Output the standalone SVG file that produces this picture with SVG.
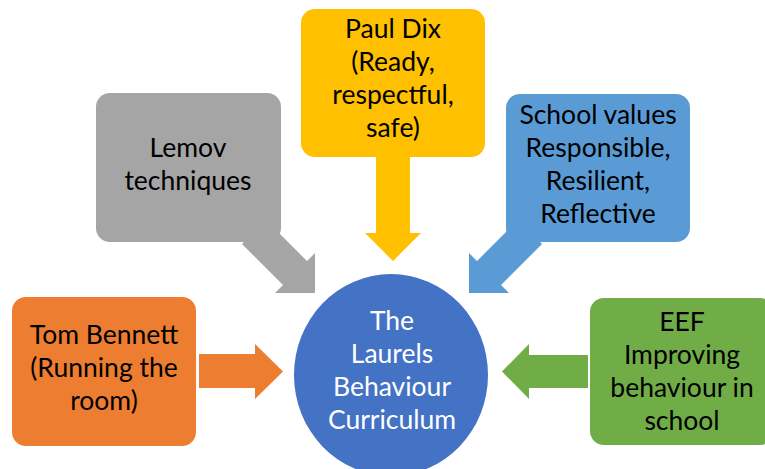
<svg xmlns="http://www.w3.org/2000/svg" width="765" height="469" viewBox="0 0 765 469">
<style>
text { font-family: Lato, Carlito, "Open Sans", sans-serif; font-size: 26.5px; text-anchor: middle; fill: #000; }
.w { fill: #fff; }
.orange { fill: #ED7D31; }
.gray { fill: #A5A5A5; }
.yellow { fill: #FFC000; }
.blue { fill: #5B9BD5; }
.green { fill: #70AD47; }
.center { fill: #4472C4; }
</style>
<rect width="765" height="469" fill="#fff"/>
<g id="connectors">
  <polygon class="orange" points="199,354 255,354 255,344 283,371.5 255,399 255,388 199,388"/>
  <polygon class="gray" points="242,244 266,220 307,261 315,253 315,293 275,293 283,285"/>
  <polygon class="yellow" points="376,157 410,157 410,233 421,233 393,261 365,233 376,233"/>
  <polygon class="blue" points="542,244 518,220 477,261 469,253 469,293 509,293 501,285"/>
  <polygon class="green" points="588,355 529,355 529,344 502,371.5 529,399 529,388 588,388"/>
</g>
<g id="tom-bennett">
  <rect class="orange" x="12" y="297" width="184" height="149" rx="14"/>
  <text x="104" y="344">Tom Bennett</text>
  <text x="104" y="377">(Running the</text>
  <text x="104" y="410">room)</text>
</g>
<g id="lemov">
  <rect class="gray" x="96" y="93" width="185" height="149" rx="14"/>
  <text x="188" y="157">Lemov</text>
  <text x="188" y="190">techniques</text>
</g>
<g id="paul-dix">
  <rect class="yellow" x="301" y="9" width="184" height="148" rx="14"/>
  <text x="393" y="38">Paul Dix</text>
  <text x="393" y="71">(Ready,</text>
  <text x="393" y="104">respectful,</text>
  <text x="393" y="137">safe)</text>
</g>
<g id="school-values">
  <rect class="blue" x="506" y="94" width="184" height="148" rx="14"/>
  <text x="598" y="124">School values</text>
  <text x="598" y="157">Responsible,</text>
  <text x="598" y="190">Resilient,</text>
  <text x="598" y="223">Reflective</text>
</g>
<g id="eef">
  <rect class="green" x="590" y="298" width="184" height="147" rx="14"/>
  <text x="682" y="331">EEF</text>
  <text x="682" y="364">Improving</text>
  <text x="682" y="397">behaviour in</text>
  <text x="682" y="430">school</text>
</g>
<g id="curriculum">
  <ellipse class="center" cx="391" cy="375" rx="97" ry="101"/>
  <text class="w" x="392" y="330">The</text>
  <text class="w" x="392" y="363">Laurels</text>
  <text class="w" x="392" y="396">Behaviour</text>
  <text class="w" x="392" y="429">Curriculum</text>
</g>
</svg>
